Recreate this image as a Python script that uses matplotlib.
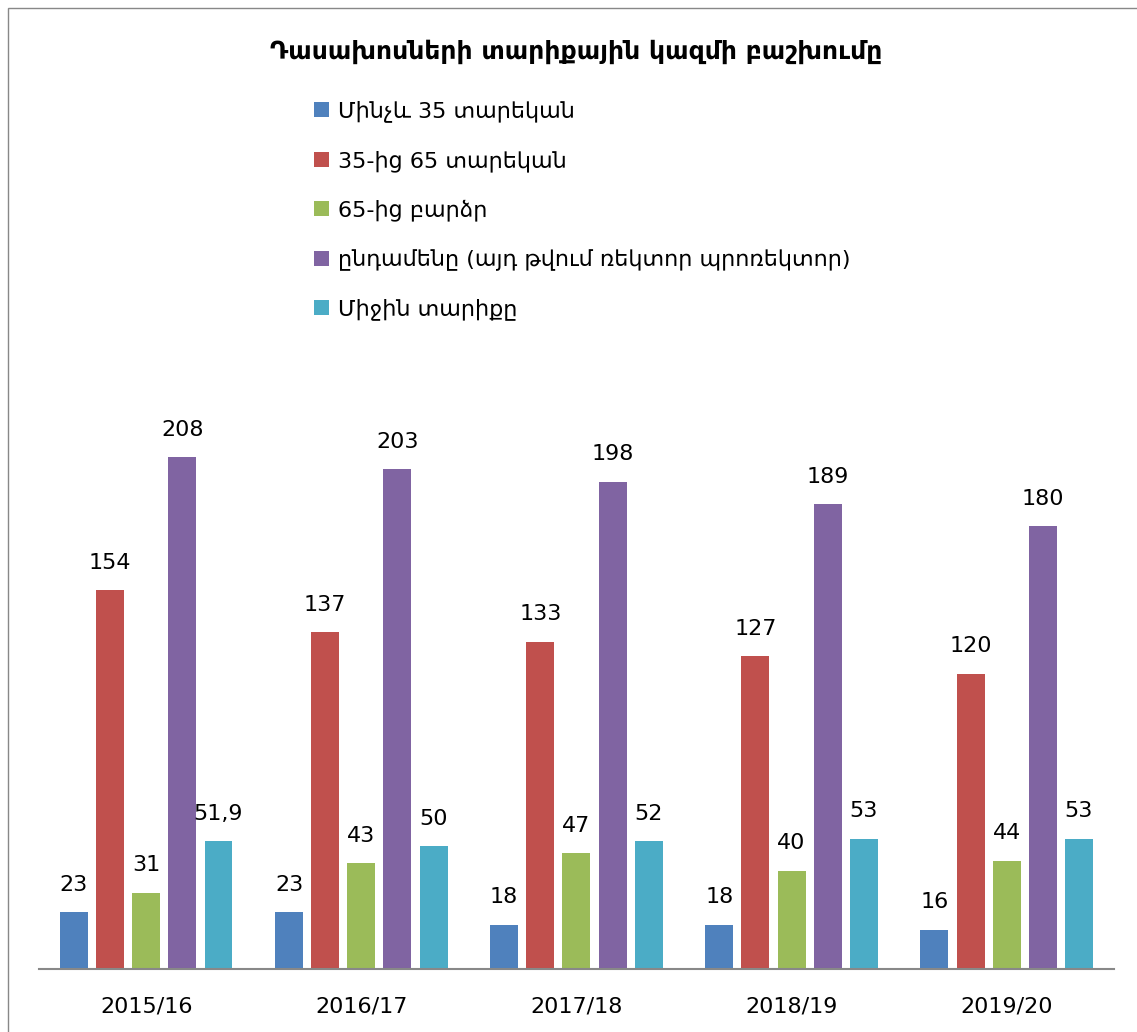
import numpy as np
import matplotlib.pyplot as plt
from matplotlib.patches import Rectangle

plt.rcParams['font.family'] = ['DejaVu Sans']

# data
years = ["2015/16", "2016/17", "2017/18", "2018/19", "2019/20"]
series_names = ["Մինչև 35 տարեկան", "35-ից 65 տարեկան", "65-ից բարձր",
                "ընդամենը (այդ թվում ռեկտոր պրոռեկտոր)", "Միջին տարիքը"]
under35 = [23, 23, 18, 18, 16]
from35to65 = [154, 137, 133, 127, 120]
over65 = [31, 43, 47, 40, 44]
total = [208, 203, 198, 189, 180]
avg_age = [51.9, 50, 52, 53, 53]
colors = ["#4F81BD", "#C0504D", "#9BBB59", "#8064A2", "#4BACC6"]

fig = plt.figure(figsize=(11.37, 10.32), dpi=100)
ax = fig.add_axes([0.034, 0.061, 0.946, 0.5964])

x = np.arange(len(years))
pitch = 0.168
width = 0.13
all_series = [under35, from35to65, over65, total, avg_age]
for i, (vals, name, c) in enumerate(zip(all_series, series_names, colors)):
    pos = x + (i - 2) * pitch
    bars = ax.bar(pos, vals, width, color=c, label=name)
    for b, v in zip(bars, vals):
        txt = str(v).replace('.', ',') if isinstance(v, float) else str(v)
        ax.text(b.get_x() + b.get_width() / 2, v + 7, txt, ha='center', va='bottom', fontsize=16)

ax.set_xlim(-0.5, 4.5)
ax.set_ylim(0, 250)
ax.set_xticks(x)
ax.set_xticklabels(years, fontsize=16)
ax.set_yticks([])
for s in ['top', 'right', 'left']:
    ax.spines[s].set_visible(False)
ax.spines['bottom'].set_color('#888888')
ax.spines['bottom'].set_linewidth(1.5)
ax.tick_params(axis='x', length=0, pad=20)

fig.text(0.507, 0.95, "Դասախոսների տարիքային կազմի բաշխումը", ha='center', va='center',
         fontsize=18, fontweight='bold')

fig.legend(loc='upper left', bbox_to_anchor=(0.259, 0.922), frameon=False, fontsize=16,
           handlelength=0.65, handleheight=0.65, handletextpad=0.4, labelspacing=1.25)

fig.add_artist(Rectangle((0.007, -0.01), 1.0, 1.0 - 0.008 + 0.01, transform=fig.transFigure,
                         fill=False, edgecolor='#888888', linewidth=1))

fig.savefig("out.png", dpi=100)
